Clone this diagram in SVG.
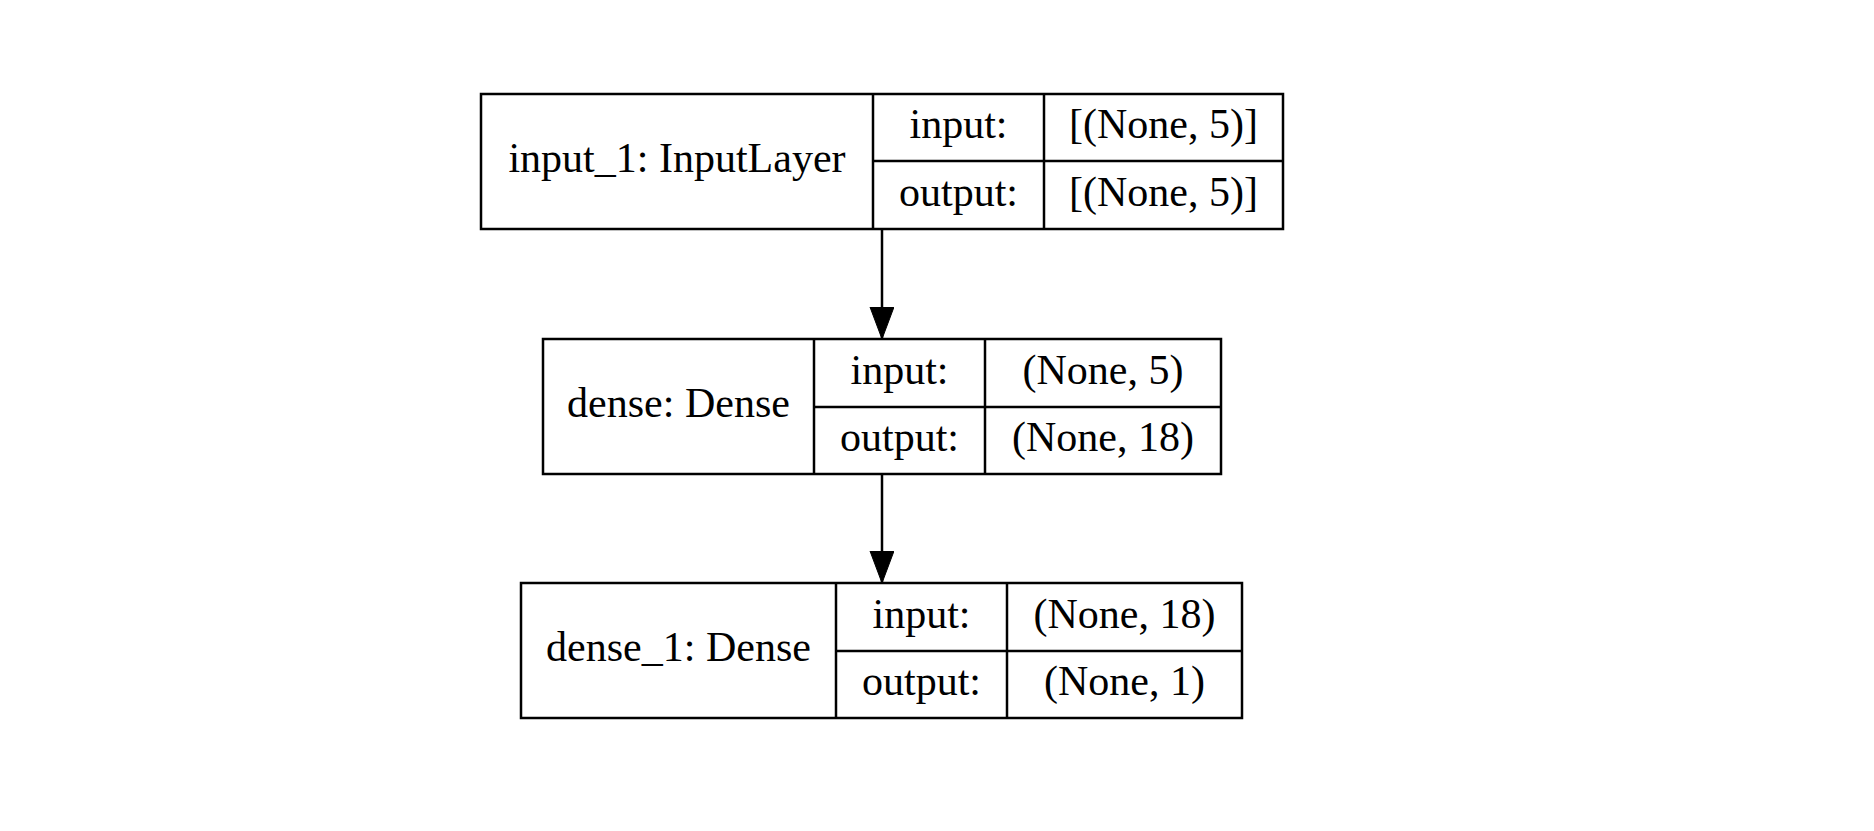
<svg xmlns="http://www.w3.org/2000/svg" width="1874" height="831" viewBox="0 0 1874 831">
<style>
.box{fill:#fff;stroke:#000;stroke-width:2.5}
.ln{stroke:#000;stroke-width:2.5;fill:none}
text{font-family:"Liberation Serif","Times New Roman",serif;font-size:42px;fill:#000;text-anchor:middle}
</style>
<defs>
<marker id="ah" markerUnits="userSpaceOnUse" markerWidth="34" markerHeight="26" refX="32" refY="12" orient="auto">
<path d="M0,0 L32,12 L0,24 Z" fill="#000" stroke="#000" stroke-width="1"/>
</marker>
</defs>
<rect width="1874" height="831" fill="#fff"/>
<g id="connectors">
<line class="ln" x1="882" y1="229" x2="882" y2="339" marker-end="url(#ah)"/>
<line class="ln" x1="882" y1="474" x2="882" y2="583" marker-end="url(#ah)"/>
</g>
<g id="input_1">
<rect class="box" x="481" y="94" width="802" height="135"/>
<line class="ln" x1="873" y1="94" x2="873" y2="229"/>
<line class="ln" x1="1044" y1="94" x2="1044" y2="229"/>
<line class="ln" x1="873" y1="161" x2="1283" y2="161"/>
<text x="677" y="172">input_1: InputLayer</text>
<text x="958.5" y="138">input:</text>
<text x="958.5" y="206">output:</text>
<text x="1163.5" y="138">[(None, 5)]</text>
<text x="1163.5" y="206">[(None, 5)]</text>
</g>
<g id="dense">
<rect class="box" x="543" y="339" width="678" height="135"/>
<line class="ln" x1="814" y1="339" x2="814" y2="474"/>
<line class="ln" x1="985" y1="339" x2="985" y2="474"/>
<line class="ln" x1="814" y1="407" x2="1221" y2="407"/>
<text x="678.5" y="417">dense: Dense</text>
<text x="899.5" y="383.5">input:</text>
<text x="899.5" y="451">output:</text>
<text x="1103" y="383.5">(None, 5)</text>
<text x="1103" y="451">(None, 18)</text>
</g>
<g id="dense_1">
<rect class="box" x="521" y="583" width="721" height="135"/>
<line class="ln" x1="836" y1="583" x2="836" y2="718"/>
<line class="ln" x1="1007" y1="583" x2="1007" y2="718"/>
<line class="ln" x1="836" y1="651" x2="1242" y2="651"/>
<text x="678.5" y="661">dense_1: Dense</text>
<text x="921.5" y="627.5">input:</text>
<text x="921.5" y="695">output:</text>
<text x="1124.5" y="627.5">(None, 18)</text>
<text x="1124.5" y="695">(None, 1)</text>
</g>
</svg>
